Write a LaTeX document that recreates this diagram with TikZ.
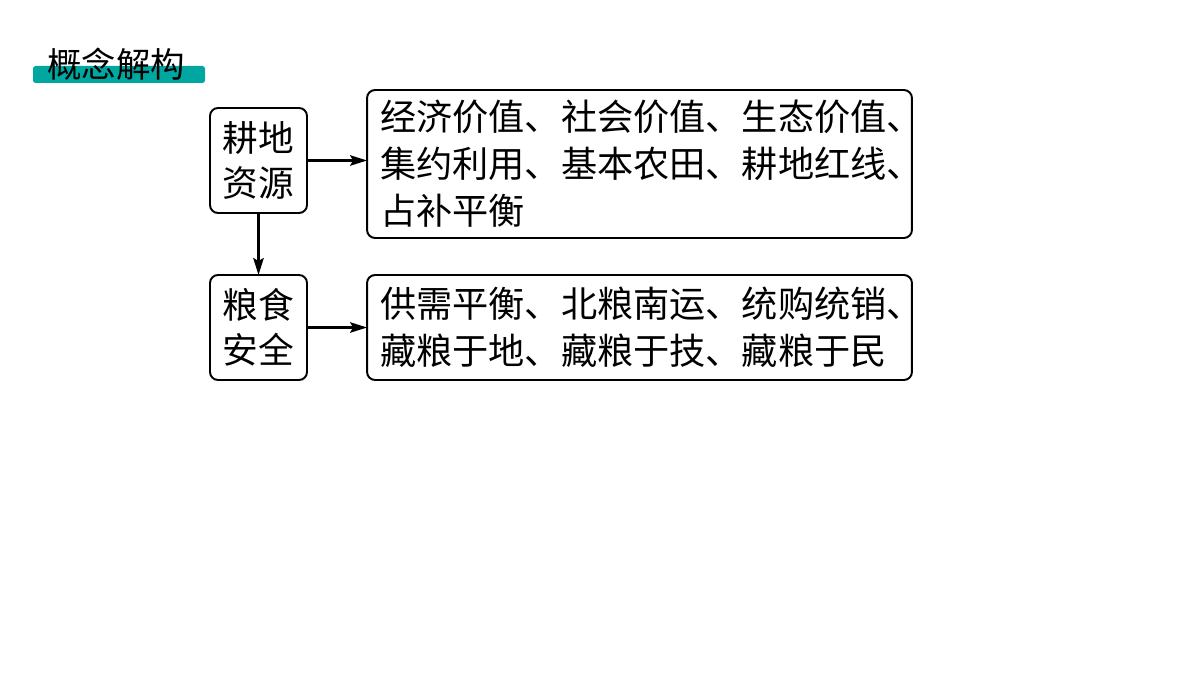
\documentclass[tikz,border=0pt]{standalone}
\usepackage{fontspec}
\newfontfamily\cjk{Noto Sans CJK SC}
\usetikzlibrary{arrows.meta}
\definecolor{barteal}{RGB}{0,166,160}
\tikzset{
  box/.style={draw, line width=1.1pt, rounded corners=0.16cm, outer sep=0pt, inner sep=0pt},
  leftbox/.style={box, minimum width=1.94cm, minimum height=2.1cm, align=center,
    font=\cjk\fontsize{20.3}{25.6}\selectfont},
  rightbox/.style={box, minimum width=10.9cm, text width=10.38cm, align=left,
    font=\cjk\fontsize{20.6}{26.7}\selectfont},
  conn/.style={line width=1.2pt, -{Stealth[length=3.4mm,width=2.1mm,inset=0.6mm]}}
}
\begin{document}
\begin{tikzpicture}[x=0.02cm, y=-0.02cm]
\useasboundingbox (0,0) rectangle (1200,675);
\fill[barteal, rounded corners=1.5pt] (33,66) rectangle (205,83);
\node[font=\cjk\fontsize{19.6}{21}\selectfont, inner sep=0pt] (title) at (116,64) {概念解构};
\node[leftbox] (b1) at (258.5,160.5) {耕地\\资源};
\node[leftbox] (b2) at (258.5,327.5) {粮食\\安全};
\node[rightbox, minimum height=2.96cm] (r1) at (639.5,164) {经济价值、社会价值、生态价值、\\集约利用、基本农田、耕地红线、\\占补平衡};
\node[rightbox, minimum height=2.1cm] (r2) at (639.5,327.5) {供需平衡、北粮南运、统购统销、\\藏粮于地、藏粮于技、藏粮于民};
\draw[conn] (b1.east) -- (b1.east -| r1.west);
\draw[conn] (b2.east) -- (b2.east -| r2.west);
\draw[conn] (b1.south) -- (b2.north);
\end{tikzpicture}
\end{document}
